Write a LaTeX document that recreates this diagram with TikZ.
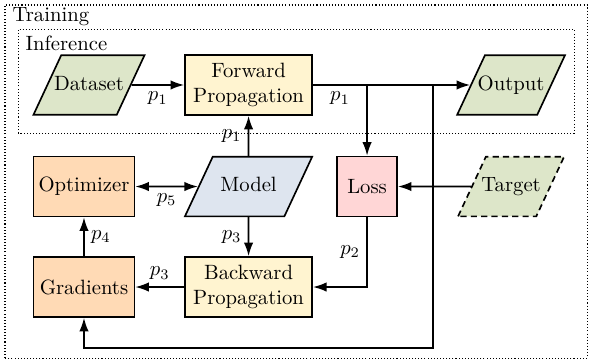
\documentclass[tikz,border=0pt]{standalone}
\usepackage{amsmath}
\usepackage{amssymb}
\usepackage{tikz}
\usetikzlibrary{arrows.meta,shapes.geometric}

\definecolor{iogreen}{HTML}{DDE6C9}
\definecolor{propyellow}{HTML}{FFF4D0}
\definecolor{losspink}{HTML}{FFD6D6}
\definecolor{optorange}{HTML}{FFDAB5}
\definecolor{modelblue}{HTML}{DEE5EF}

\begin{document}
\begin{tikzpicture}[->,>={Latex[length=2.3mm,width=1.6mm]},line width=0.8pt]
    \tikzstyle{block}=[rectangle,draw=black,line width=0.8pt,minimum height=1.02cm,align=center,inner sep=2pt]
    \tikzstyle{prop block}=[block,fill=propyellow,minimum width=2.16cm]
    \tikzstyle{opt block}=[block,fill=optorange,minimum width=1.715cm]
    \tikzstyle{loss block}=[block,fill=losspink,minimum width=1.02cm]
    \tikzstyle{io}=[trapezium,trapezium left angle=65,trapezium right angle=115,trapezium stretches body=true,draw=black,line width=0.8pt,text height=7pt,text depth=2pt,inner ysep=9.9pt,inner xsep=-3.5pt]
    \tikzstyle{data io}=[io,fill=iogreen,minimum width=1.8cm]
    \tikzstyle{frame}=[draw=black,line width=0.5pt,densely dotted]
    \tikzstyle{lbl}=[inner sep=3pt]

    \useasboundingbox (0,0) rectangle (10,6.113);

    % Frames for the two phases
    \draw[frame,-] (0.085,0.034) rectangle (9.97,6.028);
    \draw[frame,-] (0.306,3.854) rectangle (9.746,5.62);
    \node[anchor=west,inner sep=0pt] (train) at (0.2,5.83) {Training};
    \node[anchor=west,inner sep=0pt] (infer) at (0.42,5.38) {Inference};

    % Top row
    \node[data io,minimum width=1.88cm] (Data) at (1.511,4.67) {Dataset};
    \node[prop block] (Fwd) at (4.22,4.67) {Forward\\Propagation};
    \node[data io] (Out) at (8.677,4.67) {Output};

    % Middle row
    \node[opt block] (Opt) at (1.426,2.946) {Optimizer};
    \node[io,fill=modelblue,minimum width=2.16cm] (Model) at (4.22,2.946) {Model};
    \node[loss block] (Loss) at (6.232,2.946) {Loss};
    \node[data io,densely dashed] (Tgt) at (8.677,2.946) {Target};

    % Bottom row
    \node[opt block] (Grad) at (1.426,1.24) {Gradients};
    \node[prop block] (Bwd) at (4.22,1.24) {Backward\\Propagation};

    % Branch points
    \coordinate (J1) at (Loss.north |- Fwd.east);
    \coordinate (J2) at (7.352,4.67);
    \coordinate (J3) at (7.352,0.204);

    % Connections
    \draw (Data.east) -- node[lbl,below] {$p_1$} (Fwd.west);
    \draw (Fwd.east) -- node[lbl,below] {$p_1$} (J1) -- (Out.west);
    \draw (J1) -- (Loss.north);
    \draw (J2) -- (J3) -| (Grad.south);
    \draw (Model.north) -- node[lbl,left] {$p_1$} (Fwd.south);
    \draw[<->] (Opt.east) -- node[lbl,below] {$p_5$} (Model.west);
    \draw (Tgt.west) -- (Loss.east);
    \draw (Model.south) -- node[lbl,left] {$p_3$} (Bwd.north);
    \draw (Loss.south) |- node[lbl,pos=0.25,left] {$p_2$} (Bwd.east);
    \draw (Bwd.west) -- node[lbl,above] {$p_3$} (Grad.east);
    \draw (Grad.north) -- node[lbl,right] {$p_4$} (Opt.south);

\end{tikzpicture}
\end{document}
